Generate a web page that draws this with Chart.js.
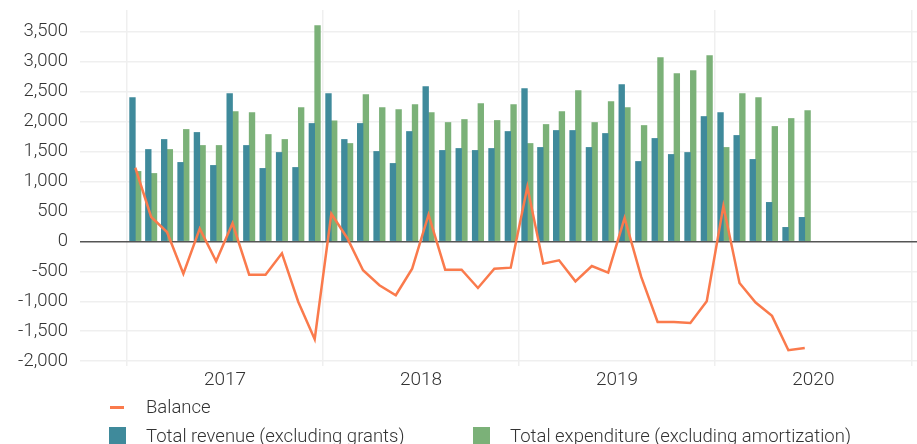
<!DOCTYPE html>
<html>
<head>
<meta charset="utf-8">
<script src="https://cdn.jsdelivr.net/npm/chart.js@4.4.1/dist/chart.umd.min.js"></script>
<style>
  html, body { margin: 0; padding: 0; background: #fff; }
  .wrap { position: relative; width: 917px; height: 444px; overflow: hidden; }
  #legend {
    position: absolute; left: 109px; top: 396px;
    display: grid; grid-template-columns: 364px auto; grid-auto-rows: 22px; row-gap: 6.5px;
    font: 300 18.5px Roboto, sans-serif; color: #333;
  }
  .item { position: relative; padding-left: 37px; line-height: 22px; white-space: nowrap; }
  .item.full { grid-column: 1 / -1; }
  .mark { position: absolute; left: 0; }
</style>
</head>
<body>
<div class="wrap">
  <canvas id="chart" width="917" height="444"></canvas>
  <div id="legend"></div>
</div>
<script>
const months = [
  '2017-01','2017-02','2017-03','2017-04','2017-05','2017-06','2017-07','2017-08','2017-09','2017-10','2017-11','2017-12',
  '2018-01','2018-02','2018-03','2018-04','2018-05','2018-06','2018-07','2018-08','2018-09','2018-10','2018-11','2018-12',
  '2019-01','2019-02','2019-03','2019-04','2019-05','2019-06','2019-07','2019-08','2019-09','2019-10','2019-11','2019-12',
  '2020-01','2020-02','2020-03','2020-04','2020-05','2020-06'
];
const revenue = [
  2400, 1533, 1700, 1317, 1817, 1267, 2467, 1600, 1217, 1483, 1233, 1967,
  2467, 1700, 1967, 1500, 1300, 1833, 2583, 1517, 1550, 1517, 1550, 1833,
  2550, 1567, 1850, 1850, 1567, 1800, 2617, 1333, 1717, 1450, 1483, 2083,
  2150, 1767, 1367, 650, 233, 400
];
const expenditure = [
  1167, 1133, 1533, 1867, 1600, 1600, 2167, 2150, 1783, 1700, 2233, 3600,
  2011, 1633, 2450, 2233, 2200, 2283, 2150, 1983, 2033, 2300, 2017, 2283,
  1633, 1950, 2167, 2517, 1983, 2333, 2233, 1933, 3067, 2800, 2850, 3100,
  1567, 2467, 2400, 1917, 2050, 2183
];
const balance = [
  1228, 406, 156, -539, 211, -333, 300, -556, -556, -200, -1011, -1633,
  461, 56, -483, -733, -900, -456, 444, -472, -472, -778, -456, -439,
  906, -372, -317, -667, -411, -522, 389, -594, -1344, -1344, -1361, -1000,
  589, -694, -1022, -1244, -1817, -1778
];
const years = ['2017', '2018', '2019', '2020', '2021'];
const yTicks = [-2000, -1500, -1000, -500, 0, 500, 1000, 1500, 2000, 2500, 3000, 3500];

const DAY = 864e5;
const origin = Date.UTC(2017, 0, 1);
// mid-month position, in days from 1 Jan 2017
function monthX(s) {
  const [y, m] = s.split('-').map(Number);
  return ((Date.UTC(y, m - 1, 1) + Date.UTC(y, m, 1)) / 2 - origin) / DAY;
}
const yearStart = years.map(y => (Date.UTC(+y, 0, 1) - origin) / DAY);

const pts = arr => arr.map((v, i) => ({ x: monthX(months[i]), y: v }));

const BLUE = '#3f8a9b';
const GREEN = '#7bb178';
const ORANGE = '#fa7a4c';
const FONT = 'Roboto, sans-serif';

const xTickVals = [];
yearStart.forEach((d, i) => {
  xTickVals.push(d);
  if (i < yearStart.length - 1) xTickVals.push((d + yearStart[i + 1]) / 2);
});

const chart = new Chart(document.getElementById('chart'), {
  type: 'bar',
  data: {
    datasets: [
      {
        type: 'line', label: 'Balance', data: pts(balance),
        borderColor: ORANGE, backgroundColor: ORANGE, borderWidth: 2.5,
        pointRadius: 0, tension: 0, fill: false
      },
      {
        label: 'Total revenue (excluding grants)', data: pts(revenue),
        backgroundColor: BLUE, barThickness: 5.7
      },
      {
        label: 'Total expenditure (excluding amortization)', data: pts(expenditure),
        backgroundColor: GREEN, barThickness: 5.7
      }
    ]
  },
  options: {
    responsive: false,
    animation: false,
    devicePixelRatio: 1,
    layout: { padding: { top: 10, right: 0, bottom: 0, left: 0 } },
    plugins: { legend: { display: false }, tooltip: { enabled: false } },
    scales: {
      x: {
        type: 'linear',
        offset: false,
        min: -87.5, max: 1471,
        afterBuildTicks: axis => { axis.ticks = xTickVals.map(v => ({ value: v })); },
        afterFit: axis => { axis.height = 78; axis.paddingLeft = 0; axis.paddingRight = 0; },
        border: { display: false },
        grid: {
          drawTicks: false,
          offset: false,
          lineWidth: 1.5,
          color: c => (c.tick && yearStart.includes(c.tick.value)) ? '#efefef' : 'rgba(0,0,0,0)'
        },
        ticks: {
          autoSkip: false, maxRotation: 0, padding: 3,
          color: '#333', font: { family: FONT, size: 19, weight: 300 },
          callback: (v, i) => (i % 2 === 1) ? years[(i - 1) / 2] : ''
        }
      },
      y: {
        min: -2080, max: 3860,
        afterBuildTicks: axis => { axis.ticks = yTicks.map(v => ({ value: v })); },
        afterFit: axis => { axis.width = 80; axis.paddingTop = 0; axis.paddingBottom = 0; },
        border: { display: false },
        grid: {
          drawTicks: false,
          lineWidth: 1.5,
          color: c => (c.tick && c.tick.value === 0) ? '#555' : '#efefef'
        },
        ticks: {
          padding: 12,
          color: '#333', font: { family: FONT, size: 18.5, weight: 300 },
          callback: v => v.toLocaleString('en-US')
        }
      }
    }
  }
});

// legend drawn as html from the chart's datasets
const legend = document.getElementById('legend');
chart.data.datasets.forEach((ds, i) => {
  const item = document.createElement('div');
  item.className = 'item' + (i === 0 ? ' full' : '');
  const mark = document.createElement('span');
  mark.className = 'mark';
  if (ds.type === 'line') {
    Object.assign(mark.style, { width: '14px', height: '2.5px', top: '10px', left: '1px', background: ds.borderColor });
  } else {
    Object.assign(mark.style, { width: '17px', height: '17px', top: '2.5px', background: ds.backgroundColor });
  }
  item.appendChild(mark);
  item.appendChild(document.createTextNode(ds.label));
  legend.appendChild(item);
});
</script>
</body>
</html>
